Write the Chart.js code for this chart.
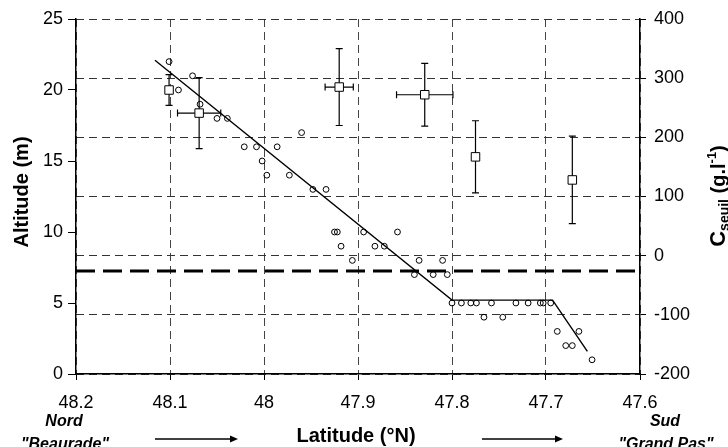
<!DOCTYPE html>
<html><head><meta charset="utf-8">
<script src="https://cdn.jsdelivr.net/npm/chart.js@4"></script>
<style>html,body{margin:0;padding:0;background:#fff}canvas{display:block}</style>
</head><body>
<canvas id="c" width="728" height="447"></canvas>
<script>
// ---- data ----
const xTicks = [48.2, 48.1, 48.0, 47.9, 47.8, 47.7, 47.6];
const altTicks = [0, 5, 10, 15, 20, 25];
const cTicks = [-200, -100, 0, 100, 200, 300, 400];

const ptLat = [48.101, 48.091, 48.076, 48.068, 48.050, 48.039, 48.021, 48.008, 48.002, 47.997, 47.986, 47.973, 47.960, 47.948, 47.934, 47.925, 47.922, 47.918, 47.906, 47.894, 47.882, 47.872, 47.858, 47.840, 47.835, 47.820, 47.810, 47.805, 47.800, 47.790, 47.780, 47.774, 47.766, 47.758, 47.746, 47.732, 47.719, 47.706, 47.703, 47.695, 47.688, 47.679, 47.672, 47.665, 47.651];
const ptAlt = [22, 20, 21, 19, 18, 18, 16, 16, 15, 14, 16, 14, 17, 13, 13, 10, 10, 9, 8, 10, 9, 9, 10, 7, 8, 7, 8, 7, 5, 5, 5, 5, 4, 5, 4, 5, 5, 5, 5, 5, 3, 2, 2, 3, 1];

const fitLat = [48.116, 47.800, 47.693, 47.656];
const fitAlt = [22.1, 5.2, 5.2, 1.6];

const refLat = [48.2, 47.6];
const refAlt = [7.25, 7.25];

const cLat  = [48.101, 48.069, 47.920, 47.829, 47.775, 47.672];
const cVal  = [280, 241, 285, 272, 167, 128];
const cErrY = [26, 60, 65, 53, 61, 74];
const cErrX = [0, 0.023, 0.015, 0.03, 0, 0];

// ---- chart ----
const FONT = '"Liberation Sans", Arial, Helvetica, sans-serif';
Chart.defaults.font.family = FONT;
Chart.defaults.color = '#000';

const zip = (xs, ys) => xs.map((x, i) => ({x: x, y: ys[i]}));
const SQ_INDEX = 3;

const errorBars = {
  id: 'errorBars',
  beforeDatasetDraw(chart, args) {
    if (args.index !== SQ_INDEX) return;
    const ctx = chart.ctx, xs = chart.scales.x, ys = chart.scales.y2;
    ctx.save();
    ctx.strokeStyle = '#000';
    ctx.lineWidth = 1.2;
    const cap = 3.5;
    cLat.forEach((lat, i) => {
      const px = xs.getPixelForValue(lat);
      const py = ys.getPixelForValue(cVal[i]);
      const yt = ys.getPixelForValue(cVal[i] + cErrY[i]);
      const yb = ys.getPixelForValue(cVal[i] - cErrY[i]);
      ctx.beginPath();
      ctx.moveTo(px, yt); ctx.lineTo(px, yb);
      ctx.moveTo(px - cap, yt); ctx.lineTo(px + cap, yt);
      ctx.moveTo(px - cap, yb); ctx.lineTo(px + cap, yb);
      if (cErrX[i] > 0) {
        const xl = xs.getPixelForValue(lat + cErrX[i]);
        const xr = xs.getPixelForValue(lat - cErrX[i]);
        ctx.moveTo(xl, py); ctx.lineTo(xr, py);
        ctx.moveTo(xl, py - cap); ctx.lineTo(xl, py + cap);
        ctx.moveTo(xr, py - cap); ctx.lineTo(xr, py + cap);
      }
      ctx.stroke();
    });
    ctx.restore();
  }
};

function arrow(ctx, x1, x2, y) {
  ctx.beginPath();
  ctx.lineWidth = 1.3;
  ctx.moveTo(x1, y); ctx.lineTo(x2 - 6, y); ctx.stroke();
  ctx.beginPath();
  ctx.moveTo(x2, y); ctx.lineTo(x2 - 8, y - 3.5); ctx.lineTo(x2 - 8, y + 3.5); ctx.closePath();
  ctx.fill();
}

const texts = {
  id: 'texts',
  afterDraw(chart) {
    const ctx = chart.ctx;
    ctx.save();
    ctx.fillStyle = '#000'; ctx.strokeStyle = '#000';
    ctx.textBaseline = 'alphabetic';
    // left title
    ctx.save();
    ctx.translate(28, 192); ctx.rotate(-Math.PI / 2);
    ctx.font = 'bold 20px ' + FONT; ctx.textAlign = 'center';
    ctx.fillText('Altitude (m)', 0, 0);
    ctx.restore();
    // right title with sub/superscript
    ctx.save();
    ctx.translate(725, 196); ctx.rotate(-Math.PI / 2);
    ctx.textAlign = 'left';
    const parts = [
      {t: 'C', f: 'bold 22px ', dy: 0},
      {t: 'seuil', f: 'bold 14px ', dy: 4},
      {t: ' (g.l', f: 'bold 20px ', dy: 0},
      {t: '-1', f: 'bold 13px ', dy: -9},
      {t: ')', f: 'bold 20px ', dy: 0}
    ];
    let total = 0;
    parts.forEach(p => { ctx.font = p.f + FONT; p.w = ctx.measureText(p.t).width; total += p.w; });
    let xx = -total / 2;
    parts.forEach(p => { ctx.font = p.f + FONT; ctx.fillText(p.t, xx, p.dy); xx += p.w; });
    ctx.restore();
    // bottom labels
    ctx.textAlign = 'center';
    ctx.font = 'bold 20px ' + FONT;
    ctx.fillText('Latitude (\u00B0N)', 356, 442);
    ctx.font = 'italic bold 16px ' + FONT;
    ctx.fillText('Nord', 64, 426);
    ctx.fillText('"Beaurade"', 65, 449);
    ctx.fillText('Sud', 665, 426);
    ctx.fillText('"Grand Pas"', 666, 449);
    arrow(ctx, 155, 238, 439);
    arrow(ctx, 482, 563, 439);
    ctx.restore();
  }
};

new Chart(document.getElementById('c'), {
  data: {
    datasets: [
      {
        type: 'line', label: 'ref', data: zip(refLat, refAlt), yAxisID: 'y',
        borderColor: '#000', borderWidth: 3, borderDash: [19, 8], pointRadius: 0, order: 4
      },
      {
        type: 'line', label: 'fit', data: zip(fitLat, fitAlt), yAxisID: 'y',
        borderColor: '#000', borderWidth: 1.4, pointRadius: 0, tension: 0, order: 3
      },
      {
        type: 'scatter', label: 'alt', data: zip(ptLat, ptAlt), yAxisID: 'y',
        pointStyle: 'circle', pointRadius: 2.9, borderWidth: 1,
        borderColor: '#000', backgroundColor: 'rgba(0,0,0,0)', order: 2
      },
      {
        type: 'scatter', label: 'cseuil', data: zip(cLat, cVal), yAxisID: 'y2',
        pointStyle: 'rect', pointRadius: 6, borderWidth: 1,
        borderColor: '#000', backgroundColor: '#fff', order: 1
      }
    ]
  },
  options: {
    responsive: false,
    animation: false,
    devicePixelRatio: 1,
    layout: {padding: {top: 19, left: 0, right: 0, bottom: 0}},
    plugins: {legend: {display: false}, tooltip: {enabled: false}},
    scales: {
      x: {
        type: 'linear', position: 'bottom', reverse: true, min: 47.6, max: 48.2,
        afterBuildTicks: s => { s.ticks = xTicks.map(v => ({value: v})); },
        afterFit: s => { s.height = 73; },
        ticks: {font: {size: 18}, padding: 12, maxRotation: 0, autoSkip: false,
          callback: v => String(+Number(v).toFixed(1))},
        grid: {drawOnChartArea: true, color: '#444', lineWidth: 1, drawTicks: true,
          tickLength: 6, tickColor: '#000', tickBorderDash: []},
        border: {display: true, color: '#000', width: 1.5, dash: [8, 5]}
      },
      y: {
        type: 'linear', position: 'left', min: 0, max: 25,
        afterBuildTicks: s => { s.ticks = altTicks.map(v => ({value: v})); },
        afterFit: s => { s.width = 76; },
        ticks: {font: {size: 18}, padding: 5},
        grid: {drawOnChartArea: false, drawTicks: true, tickLength: 8, tickColor: '#000'},
        border: {display: true, color: '#000', width: 1.5}
      },
      y2: {
        type: 'linear', position: 'right', min: -200, max: 400,
        afterBuildTicks: s => { s.ticks = cTicks.map(v => ({value: v})); },
        afterFit: s => { s.width = 88; },
        ticks: {font: {size: 18}, padding: 8},
        grid: {drawOnChartArea: true, color: '#333', lineWidth: 1, drawTicks: true,
          tickLength: 6, tickColor: '#000', tickBorderDash: []},
        border: {display: true, color: '#000', width: 1.5, dash: [8, 5]}
      }
    }
  },
  plugins: [errorBars, texts]
});
</script>
</body></html>
